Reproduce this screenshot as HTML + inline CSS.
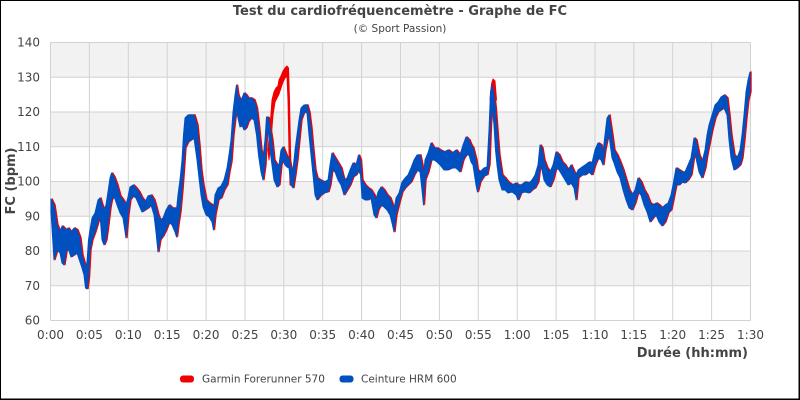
<!DOCTYPE html>
<html><head><meta charset="utf-8"><style>
html,body{margin:0;padding:0;background:#fff;}
svg{display:block;}
text{font-family:"DejaVu Sans","Liberation Sans",sans-serif;fill:#444;}
</style></head><body>
<svg width="800" height="400" viewBox="0 0 800 400" xmlns="http://www.w3.org/2000/svg">
<rect x="0" y="0" width="800" height="400" fill="#fff"/>
<!-- bands -->
<g fill="#f2f2f2">
<rect x="50.5" y="42.5" width="700" height="34.75"/>
<rect x="50.5" y="112" width="700" height="34.75"/>
<rect x="50.5" y="181.5" width="700" height="34.75"/>
<rect x="50.5" y="251" width="700" height="34.75"/>
</g>
<!-- grid -->
<g stroke="#d2d2d2" stroke-width="1" fill="none">
<line x1="50.5" y1="42.5" x2="750.5" y2="42.5"/>
<line x1="50.5" y1="77.25" x2="750.5" y2="77.25"/>
<line x1="50.5" y1="112" x2="750.5" y2="112"/>
<line x1="50.5" y1="146.75" x2="750.5" y2="146.75"/>
<line x1="50.5" y1="181.5" x2="750.5" y2="181.5"/>
<line x1="50.5" y1="216.25" x2="750.5" y2="216.25"/>
<line x1="50.5" y1="251" x2="750.5" y2="251"/>
<line x1="50.5" y1="285.75" x2="750.5" y2="285.75"/>
<line x1="50.5" y1="320.5" x2="750.5" y2="320.5"/>
<line x1="50.5" y1="42.5" x2="50.5" y2="320.5"/>
<line x1="89.4" y1="42.5" x2="89.4" y2="320.5"/>
<line x1="128.3" y1="42.5" x2="128.3" y2="320.5"/>
<line x1="167.2" y1="42.5" x2="167.2" y2="320.5"/>
<line x1="206.1" y1="42.5" x2="206.1" y2="320.5"/>
<line x1="245" y1="42.5" x2="245" y2="320.5"/>
<line x1="283.8" y1="42.5" x2="283.8" y2="320.5"/>
<line x1="322.7" y1="42.5" x2="322.7" y2="320.5"/>
<line x1="361.6" y1="42.5" x2="361.6" y2="320.5"/>
<line x1="400.5" y1="42.5" x2="400.5" y2="320.5"/>
<line x1="439.4" y1="42.5" x2="439.4" y2="320.5"/>
<line x1="478.3" y1="42.5" x2="478.3" y2="320.5"/>
<line x1="517.2" y1="42.5" x2="517.2" y2="320.5"/>
<line x1="556.1" y1="42.5" x2="556.1" y2="320.5"/>
<line x1="595" y1="42.5" x2="595" y2="320.5"/>
<line x1="633.8" y1="42.5" x2="633.8" y2="320.5"/>
<line x1="672.7" y1="42.5" x2="672.7" y2="320.5"/>
<line x1="711.6" y1="42.5" x2="711.6" y2="320.5"/>
<line x1="750.5" y1="42.5" x2="750.5" y2="320.5"/>
</g>
<defs>
<polygon id="env" points="51,199 54,205 57,225 60,232 62,226 64,228 66,230 68,228 71,232 74,228 77,230 80,238 82,255 84,262 85.5,268 87,262 88.5,240 90,230 92,218 95,213 98,200 100,198 102,205 104,210 106,205 108,192 110,178 111.5,173 114,177 117,185 120,196 123,200 126,205 128,197 130,187 133,185 136,188 139,192 142,198 145,202 148,196 151,195 154,200 156,207 158,215 160,220 163,218 166,210 169,205 172,208 175,208 176.5,210 178,195 180,180 182,160 183.5,135 185,118 188,115 191,115 194,115 197,125 199,145 201,170 203,185 206,200 209,203 212,205 213.5,210 215,195 218,188 221,186 224,180 227,168 229,155 231,140 233,112 235,95 236.5,85 238,95 240,100 242,98 244,93 246,95 248,98 251,98 254,100 256.5,108 258.5,125 261,150 263,158 265,140 266.5,117 268.5,118 270,128 272,140 274,160 277,165 279,165 281,150 283,147 285,152 287,157 289,158 291,168 293,170 295,150 297,135 299,120 301,108 304,105 307,105 309,112 311,128 313,150 315,170 317,178 320,180 324,182 328,180 330,165 332,153 335,158 338,163 341,168 344,180 347,178 350,170 353,163 356,165 358.5,155 360.5,160 362,180 365,185 368,188 371,190 374,195 376,200 378,192 381,187 384,190 387,195 390,198 392.5,205 394,210 396,198 399,193 402,182 405,178 408,175 411,168 414,160 417,155 420,155 422,165 423.5,175 425,160 428,153 431,143 434,148 437,148 440,150 444,152 448,150 452,153 456,150 460,155 463,145 466,137 469,140 471,145 473,148 476,160 477.5,170 480,172 484,168 487,167 489,130 490.5,92 492,85 494,95 495.5,110 497,130 499,155 502,175 505,178 508,182 512,185 516,183 518,185 521,185 525,182 529,183 532,180 535,175 538,165 540,145 542,148 544,160 547,168 550,172 553,165 556,152 559,155 562,162 565,165 568,170 571,165 574,172 576,175 578,170 582,167 585,165 589,162 592,163 595,150 598,143 601,145 603,152 605,135 607,118 609,115 612,135 614,150 617,155 620,162 623,170 626,180 629,190 632,195 635,190 638,178 641,182 644,190 647,195 650,203 653,205 656,203 659,205 662,208 665,205 668,203 671,195 673,185 676,168 679,170 682,172 685,172 688,165 691,158 694,138 696,140 699,155 702,162 705,150 707,135 709,125 712,115 715,105 718,102 721,97 724,95 727,98 729,115 731,135 734,155 737,158 740,150 742,135 744,115 746,92 748,80 750,72
750,92 748,100 746,118 744,140 742,158 740,165 737,168 734,170 731,158 729,140 727,115 724,108 721,110 718,112 715,118 712,130 709,145 707,155 705,168 702,178 699,172 696,158 694,155 691,175 688,180 685,183 682,182 679,185 676,185 673,200 671,210 668,213 665,222 662,226 659,222 656,215 653,218 650,222 647,212 644,205 641,195 638,192 635,203 632,210 629,208 626,200 623,190 620,178 617,172 614,163 612,158 609,135 607,140 605,150 603,165 601,160 598,158 595,165 592,175 589,172 585,175 582,175 578,178 576,200 574,188 571,183 568,185 565,180 562,175 559,170 556,168 553,180 550,187 547,185 544,180 542,170 540,165 538,182 535,188 532,190 529,193 525,192 521,193 518,200 516,195 512,192 508,193 505,190 502,190 499,180 497,165 495.5,150 494,125 492,105 490.5,125 489,165 487,175 484,176 480,182 477.5,192 476,185 473,165 471,162 469,155 466,155 463,160 460,172 456,168 452,168 448,170 444,170 440,165 437,162 434,160 431,160 428,172 425,180 423.5,205 422,190 420,172 417,170 414,175 411,182 408,185 405,188 402,192 399,203 396,215 394,232 392.5,225 390,215 387,210 384,207 381,205 378,210 376,218 374,215 371,198 368,200 365,200 362,198 360.5,175 358.5,170 356,175 353,177 350,185 347,190 344,195 341,185 338,180 335,172 332,170 330,185 328,192 324,193 320,196 317,200 315,195 313,175 311,155 309,135 307,113 304,112 301,120 299,140 297,160 295,175 293,188 291,185 289,168 287,167 285,165 283,160 281,165 279,185 277,187 274,180 272,165 270,150 268.5,133 266.5,135 265,165 263,180 261,172 258.5,155 256.5,135 254,120 251,118 248,122 246,128 244,130 242,125 240,127 238,118 236.5,110 235,118 233,135 231,162 229,172 227,185 224,190 221,198 218,200 215,215 213.5,230 212,222 209,217 206,215 203,207 201,195 199,178 197,160 194,138 191,140 188,142 185,148 183.5,170 182,190 180,212 178,225 176.5,237 175,232 172,225 169,222 166,230 163,236 160,240 158,252 156,232 154,215 151,205 148,208 145,210 142,212 139,205 136,198 133,196 130,200 128,215 126,238 123,218 120,213 117,205 114,196 111.5,200 110,208 108,225 106,240 104,245 102,240 100,215 98,222 95,232 92,240 90,250 88.5,278 87,289 85.5,288 84,275 82,268 80,262 77,253 74,255 71,257 68,248 66,252 64,265 62,263 60,253 57,250 54,260 51,212"/>
</defs>
<!-- red series -->
<g fill="#f00000" stroke="#f00000" stroke-width="1" stroke-linejoin="round">
<use href="#env" transform="translate(1.2,-0.3)"/>
<polygon points="268,150 270,128 272,100 274,92 276,88 278,86 279,80 281,76 283,71 285,68 287,66 288.5,68 289.5,100 290.5,150 291.5,185 290,185 289,150 288,100 287,76 285,78 283,82 281,88 279,94 277,98 275,102 273,115 271,140 269,160"/>
<polygon points="490,100 491.5,84 493,79 495,81 496.5,100"/>
</g>
<!-- blue series -->
<g fill="#0050c0" stroke="#0050c0" stroke-width="1" stroke-linejoin="round">
<use href="#env"/>
</g>
<!-- y labels -->
<g font-size="12" text-anchor="end">
<text x="40" y="46.5">140</text>
<text x="40" y="81.25">130</text>
<text x="40" y="116">120</text>
<text x="40" y="150.75">110</text>
<text x="40" y="185.5">100</text>
<text x="40" y="220.25">90</text>
<text x="40" y="255">80</text>
<text x="40" y="289.75">70</text>
<text x="40" y="324.5">60</text>
</g>
<!-- x labels -->
<g font-size="12" text-anchor="middle">
<text x="50.5" y="339">0:00</text>
<text x="89.4" y="339">0:05</text>
<text x="128.3" y="339">0:10</text>
<text x="167.2" y="339">0:15</text>
<text x="206.1" y="339">0:20</text>
<text x="245" y="339">0:25</text>
<text x="283.8" y="339">0:30</text>
<text x="322.7" y="339">0:35</text>
<text x="361.6" y="339">0:40</text>
<text x="400.5" y="339">0:45</text>
<text x="439.4" y="339">0:50</text>
<text x="478.3" y="339">0:55</text>
<text x="517.2" y="339">1:00</text>
<text x="556.1" y="339">1:05</text>
<text x="595" y="339">1:10</text>
<text x="633.8" y="339">1:15</text>
<text x="672.7" y="339">1:20</text>
<text x="711.6" y="339">1:25</text>
<text x="750.5" y="339">1:30</text>
</g>
<!-- titles -->
<text x="400" y="15" font-size="13" font-weight="bold" text-anchor="middle">Test du cardiofréquencemètre - Graphe de FC</text>
<text x="400" y="32" font-size="10.5" text-anchor="middle">(© Sport Passion)</text>
<text x="748" y="357" font-size="13" font-weight="bold" text-anchor="end">Durée (hh:mm)</text>
<text transform="translate(15,181) rotate(-90)" font-size="13" font-weight="bold" text-anchor="middle">FC (bpm)</text>
<!-- legend -->
<rect x="180" y="375.5" width="14" height="7" rx="3" fill="#f00000"/>
<text x="202" y="382.5" font-size="10.5" fill="#222">Garmin Forerunner 570</text>
<rect x="339.5" y="375.5" width="14" height="7" rx="3" fill="#0050c0"/>
<text x="361" y="382.5" font-size="10.5" fill="#222">Ceinture HRM 600</text>
<!-- outer border -->
<rect x="0.5" y="0.5" width="798.5" height="398.5" fill="none" stroke="#000" stroke-width="1"/>
<line x1="799.5" y1="0" x2="799.5" y2="400" stroke="#000" stroke-width="1"/>
<line x1="0" y1="399.5" x2="800" y2="399.5" stroke="#000" stroke-width="1"/>
</svg>
</body></html>
